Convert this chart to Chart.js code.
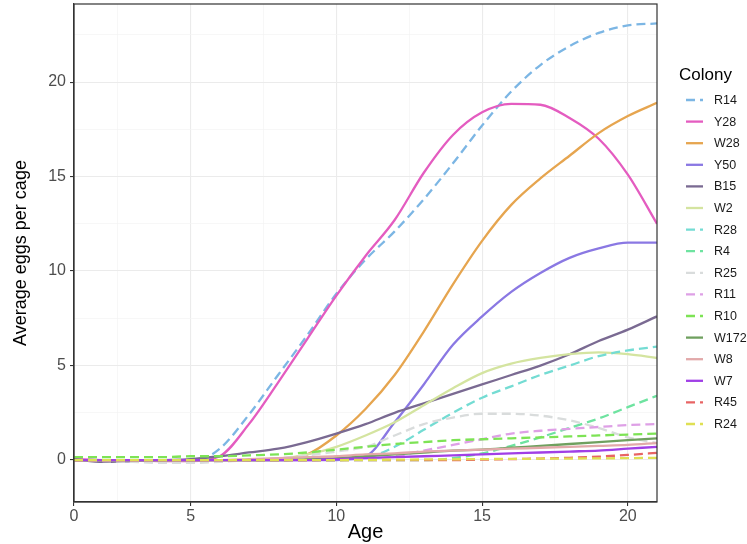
<!DOCTYPE html>
<html>
<head>
<meta charset="utf-8">
<script src="https://cdn.jsdelivr.net/npm/chart.js@4.4.6/dist/chart.umd.min.js"></script>
<style>
    html, body { margin: 0; padding: 0; background: #fff; }
    #contenedor { width: 747px; height: 544px; }
</style>
</head>
<body>
<div id="contenedor"><canvas id="graficaHuevos"></canvas></div>
<script>
// edad (eje x) y colonias
const edades = [1, 2, 3, 4, 5, 6, 7, 8, 9, 10, 11, 12, 13, 14, 15, 16, 17, 18, 19, 20, 21];
const colonias = ["R14", "Y28", "W28", "Y50", "B15", "W2", "R28", "R4", "R25", "R11", "R10", "W172", "W8", "W7", "R45", "R24"];

// promedio de huevos por jaula, una lista por colonia
const R14  = [0.05, 0, -0.05, -0.1, -0.1, 0.6, 2.4, 4.5, 6.6, 8.8, 10.6, 12.1, 13.8, 15.7, 17.7, 19.5, 20.9, 21.9, 22.6, 23.0, 23.1];
const Y28  = [0.05, 0, 0, -0.05, -0.05, 0.2, 1.9, 4.1, 6.4, 8.7, 10.8, 12.7, 15.2, 17.2, 18.4, 18.85, 18.8, 18.1, 17.0, 15.1, 12.5];
const W28  = [0, 0, 0, 0, 0, 0, 0, 0.05, 0.3, 1.3, 2.7, 4.5, 6.8, 9.3, 11.6, 13.5, 14.9, 16.1, 17.3, 18.2, 18.9];
const Y50  = [0, 0, 0, 0, 0, 0, 0, 0, 0, 0, 0.2, 2.0, 4.0, 6.1, 7.6, 8.9, 9.9, 10.7, 11.2, 11.5, 11.5];
const B15  = [0.05, -0.1, -0.05, 0, 0.05, 0.2, 0.4, 0.6, 0.95, 1.4, 1.9, 2.5, 3.0, 3.5, 4.0, 4.5, 5.0, 5.6, 6.3, 6.9, 7.6];
const W2   = [0, 0, 0, 0, 0, 0, 0, 0.05, 0.3, 0.7, 1.3, 2.0, 2.9, 3.8, 4.6, 5.1, 5.4, 5.6, 5.7, 5.6, 5.4];
const R28  = [0, 0, 0, 0, 0, 0, 0, 0, 0, 0, 0.1, 0.7, 1.6, 2.5, 3.3, 3.9, 4.5, 5.0, 5.5, 5.8, 6.0];
const R4   = [0, 0, 0, 0, 0, 0, 0, 0, 0, 0, 0, 0, 0, 0.1, 0.35, 0.75, 1.2, 1.7, 2.2, 2.8, 3.4];
const R25  = [0, -0.05, -0.1, -0.15, -0.15, -0.1, 0, 0.1, 0.25, 0.45, 0.7, 1.3, 1.9, 2.25, 2.45, 2.45, 2.35, 2.1, 1.7, 1.2, 0.9];
const R11  = [0, 0, 0, 0, 0, 0, 0, 0, 0, 0, 0.05, 0.2, 0.5, 0.8, 1.1, 1.4, 1.55, 1.65, 1.75, 1.85, 1.9];
const R10  = [0.15, 0.15, 0.15, 0.15, 0.2, 0.2, 0.25, 0.3, 0.4, 0.55, 0.7, 0.85, 0.95, 1.05, 1.1, 1.15, 1.2, 1.25, 1.3, 1.35, 1.4];
const W172 = [0, 0, 0, 0, 0, 0, 0, 0, 0.05, 0.1, 0.2, 0.3, 0.4, 0.5, 0.55, 0.65, 0.75, 0.85, 0.95, 1.05, 1.15];
const W8   = [0, 0, 0, 0, 0, 0, 0.05, 0.1, 0.15, 0.2, 0.3, 0.35, 0.45, 0.5, 0.55, 0.6, 0.65, 0.7, 0.75, 0.8, 0.9];
const W7   = [0, 0, 0, 0, 0, 0, 0, 0, 0, 0.05, 0.1, 0.15, 0.2, 0.25, 0.3, 0.35, 0.4, 0.45, 0.5, 0.6, 0.7];
const R45  = [0, 0, 0, 0, 0, 0, 0, 0, 0, 0, 0, 0, 0, 0, 0.02, 0.05, 0.08, 0.12, 0.18, 0.27, 0.38];
const R24  = [0, 0, 0, 0, 0, 0, 0, 0, 0, 0, 0.01, 0.02, 0.03, 0.04, 0.05, 0.06, 0.07, 0.08, 0.09, 0.1, 0.12];

// marcas de los ejes (el "0" cae en la edad 1, como en el original)
const marcasX = [1, 5, 10, 15, 20];
const etiquetasX = ["0", "5", "10", "15", "20"];
const marcasY = [0, 5, 10, 15, 20];

const series = [R14, Y28, W28, Y50, B15, W2, R28, R4, R25, R11, R10, W172, W8, W7, R45, R24];
const colores = ["#7cb6e4", "#e45cc0", "#e6a54f", "#8a78e3", "#7a6a92", "#d4e4a0", "#74dcd3", "#6ee3a0",
                 "#d9dcdc", "#dea0e6", "#7de355", "#6fa05f", "#e2a9aa", "#a03fe6", "#e86464", "#dfe053"];
const punteadas = [true, false, false, false, false, false, true, true, true, true, true, false, false, false, true, true];

const datasets = series.map(function (valores, i) {
    return {
        label: colonias[i],
        data: edades.map((e, j) => ({ x: e, y: valores[j] })),
        borderColor: colores[i],
        backgroundColor: colores[i],
        borderWidth: 2.3,
        borderDash: punteadas[i] ? [9, 5] : [],
        pointRadius: 0,
        cubicInterpolationMode: 'monotone',
        fill: false,
        order: series.length - 1 - i
    };
});

const menores = v => Math.abs(v / 5 - Math.round(v / 5)) > 0.01;

// borde del panel, como panel.border de ggplot
const bordePanel = {
    id: 'bordePanel',
    afterDatasetsDraw(chart) {
        const a = chart.chartArea;
        const ctx = chart.ctx;
        ctx.save();
        ctx.strokeStyle = '#333333';
        ctx.lineWidth = 1.2;
        ctx.strokeRect(a.left, a.top, a.right - a.left, a.bottom - a.top);
        ctx.restore();
    }
};

// leyenda a la derecha con titulo "Colony"
const leyenda = {
    id: 'leyenda',
    afterDraw(chart) {
        const ctx = chart.ctx;
        ctx.save();
        ctx.fillStyle = '#000';
        ctx.font = '17px "Liberation Sans", Arial, sans-serif';
        ctx.textBaseline = 'middle';
        ctx.fillText('Colony', 679, 75);
        ctx.font = '12.5px "Liberation Sans", Arial, sans-serif';
        chart.data.datasets.forEach(function (ds, i) {
            const y = 100 + i * 21.6;
            ctx.strokeStyle = ds.borderColor;
            ctx.lineWidth = ds.borderWidth;
            ctx.setLineDash(ds.borderDash);
            ctx.beginPath();
            ctx.moveTo(686, y);
            ctx.lineTo(703, y);
            ctx.stroke();
            ctx.setLineDash([]);
            ctx.fillStyle = '#1a1a1a';
            ctx.fillText(ds.label, 714, y + 0.5);
        });
        ctx.restore();
    }
};

document.addEventListener('DOMContentLoaded', function () {
    const ctx = document.getElementById('graficaHuevos').getContext('2d');
    new Chart(ctx, {
        type: 'line',
        data: { datasets: datasets },
        plugins: [bordePanel, leyenda],
        options: {
            responsive: true,
            maintainAspectRatio: false,
            animation: false,
            layout: { padding: { top: 4, right: 90, left: 0, bottom: 0 } },
            plugins: {
                legend: { display: false },
                tooltip: { enabled: false }
            },
            scales: {
                x: {
                    type: 'linear',
                    min: 1,
                    max: 21,
                    afterBuildTicks: s => { s.ticks = [1, 2.5, 5, 7.5, 10, 12.5, 15, 17.5, 20].map(v => ({ value: v })); },
                    afterFit: s => { s.height = 42; s.paddingLeft = 0; s.paddingRight = 0; },
                    ticks: {
                        autoSkip: false,
                        maxRotation: 0,
                        padding: 1,
                        color: '#4d4d4d',
                        font: { family: '"Liberation Sans", Arial, sans-serif', size: 16 },
                        callback: v => { const k = marcasX.indexOf(v); return k >= 0 ? etiquetasX[k] : ''; }
                    },
                    grid: {
                        color: c => menores(c.tick.value) && c.tick.value !== 1 ? '#f4f4f4' : '#ebebeb',
                        lineWidth: c => menores(c.tick.value) && c.tick.value !== 1 ? 0.7 : 1.1,
                        tickColor: c => marcasX.includes(c.tick.value) ? '#333333' : 'rgba(0,0,0,0)',
                        tickLength: 4
                    },
                    border: { display: true, color: '#333333', width: 1.2 },
                    title: {
                        display: true,
                        text: 'Age',
                        color: '#000',
                        font: { family: '"Liberation Sans", Arial, sans-serif', size: 20 },
                        padding: { top: 0, bottom: 0 }
                    }
                },
                y: {
                    min: -2.22,
                    max: 24.13,
                    afterBuildTicks: s => { s.ticks = [0, 2.5, 5, 7.5, 10, 12.5, 15, 17.5, 20, 22.5].map(v => ({ value: v })); },
                    afterFit: s => { s.width = 74; s.paddingTop = 0; s.paddingBottom = 0; },
                    ticks: {
                        autoSkip: false,
                        padding: 4,
                        color: '#4d4d4d',
                        font: { family: '"Liberation Sans", Arial, sans-serif', size: 16 },
                        callback: v => marcasY.includes(v) ? String(v) : ''
                    },
                    grid: {
                        color: c => menores(c.tick.value) ? '#f4f4f4' : '#ebebeb',
                        lineWidth: c => menores(c.tick.value) ? 0.7 : 1.1,
                        tickColor: c => marcasY.includes(c.tick.value) ? '#333333' : 'rgba(0,0,0,0)',
                        tickLength: 4
                    },
                    border: { display: true, color: '#333333', width: 1.2 },
                    title: {
                        display: true,
                        text: 'Average eggs per cage',
                        color: '#000',
                        font: { family: '"Liberation Sans", Arial, sans-serif', size: 18 },
                        padding: { top: 10, bottom: 0 }
                    }
                }
            }
        }
    });
});
</script>
</body>
</html>
